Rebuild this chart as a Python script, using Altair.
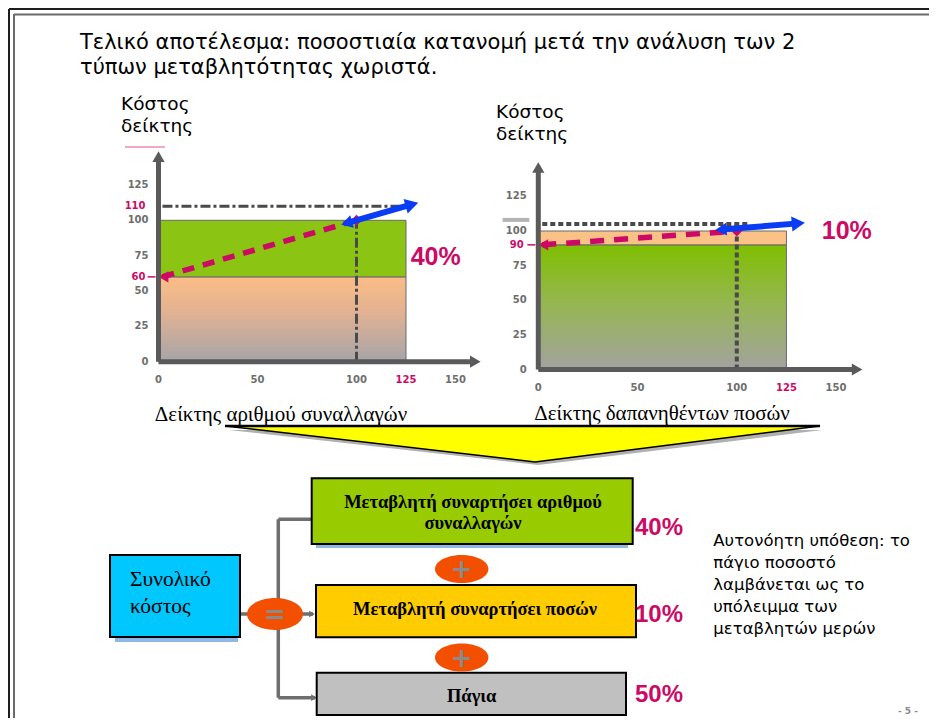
import altair as alt
import pandas as pd

# ----------------------------------------------------------------- values
TITLE_LINES = ["Τελικό αποτέλεσμα: ποσοστιαία κατανομή μετά την ανάλυση των 2",
               "τύπων μεταβλητότητας χωριστά."]
Y_TITLE_LINES = ["Κόστος", "δείκτης"]
X_TICKS = [0, 50, 100, 150]
Y_TICKS = [0, 25, 50, 75, 100, 125]

# left panel: cost index vs index of number of transactions
L_X_TITLE = "Δείκτης αριθμού συναλλαγών"
L_ZERO_COST = 60      # cost index when activity index = 0
L_BASE_X = 100
L_BASE_COST = 100
L_MAX_X = 125
L_MAX_COST = 110
L_SHARE = "40%"
L_BLUE_X = [95, 128]
L_BLUE_Y = [98, 111.2]

# right panel: cost index vs index of amounts spent
R_X_TITLE = "Δείκτης δαπανηθέντων ποσών"
R_ZERO_COST = 90
R_BASE_X = 100
R_BASE_COST = 100
R_MAX_X = 125
R_REF_COST = 105
R_SHARE = "10%"
R_BLUE_X = [92, 131]
R_BLUE_Y = [101, 105.5]

# diagram
TOTAL_LABEL = ["Συνολικό", "κόστος"]
PART_LABELS = ["Μεταβλητή συναρτήσει αριθμού", "συναλλαγών",
               "Μεταβλητή συναρτήσει ποσών", "Πάγια"]
PART_SHARES = ["40%", "10%", "50%"]
PART_COLORS = ["#99cc00", "#ffcc00", "#c0c0c0"]
NOTE_LINES = ["Αυτονόητη υπόθεση: το", "πάγιο ποσοστό", "λαμβάνεται ως το",
              "υπόλειμμα των", "μεταβλητών μερών"]
PAGE_NO = "- 5 -"

# ----------------------------------------------------------------- styles
MAG = "#cc0a66"
BLUE = "#0a3cf5"
AXC = "#5a5a5a"
SANS = "DejaVu Sans"
SERIF = "Liberation Serif"
ARIAL = "Liberation Sans"
W, H = 922, 711

# page-coordinate scales for the slide decoration / diagram
PX = alt.Scale(domain=[8, 930], range=[0, 922], nice=False, zero=False)
PY = alt.Scale(domain=[8, 719], range=[0, 711], nice=False, zero=False)


def D(**cols):
    return pd.DataFrame(cols)


def enc(ch, sx, sy, x2=False, y2=False):
    e = dict(x=alt.X("x:Q", scale=sx, axis=None), y=alt.Y("y:Q", scale=sy, axis=None))
    if x2:
        e["x2"] = alt.X2("x2")
    if y2:
        e["y2"] = alt.Y2("y2")
    return ch.encode(**e)


def txt(data, sx, sy, **mk):
    return enc(alt.Chart(data).mark_text(**mk), sx, sy).encode(text="t:N")


def rul(data, sx, sy, **mk):
    return enc(alt.Chart(data).mark_rule(**mk), sx, sy, True, True)


def rct(data, sx, sy, **mk):
    return enc(alt.Chart(data).mark_rect(**mk), sx, sy, True, True)


def pts(data, sx, sy, **mk):
    return enc(alt.Chart(data).mark_point(**mk), sx, sy)


def lin(data, sx, sy, **mk):
    return enc(alt.Chart(data).mark_line(**mk), sx, sy)


def grad(stops):
    return alt.LinearGradient(gradient="linear", x1=0, x2=0, y1=0, y2=1,
                              stops=[alt.GradientStop(color=c, offset=o) for o, c in stops])


# ----------------------------------------------------------------- index panels
def index_panel(c):
    xs = alt.Scale(domain=[0, 150], range=c["xr"], nice=False, zero=False)
    ys = alt.Scale(domain=[0, 125], range=c["yr"], nice=False, zero=False)
    lab = dict(font=SANS, fontWeight="bold", fontSize=10, baseline="middle")
    L = [
        rct(D(x=[0], x2=[c["maxx"]], y=[0], y2=[c["split"]]), xs, ys,
            fill=grad(c["lower_stops"]), stroke="#6a6a6a", strokeWidth=1),
        rct(D(x=[0], x2=[c["maxx"]], y=[c["split"]], y2=[c["top"]]), xs, ys,
            fill=c["upper_fill"], stroke="#6a6a6a", strokeWidth=1),
        rul(D(x=[2], x2=[c["hdash_x2"]], y=[c["hdash_y"]], y2=[c["hdash_y"]]), xs, ys,
            color="#4a4a4a", strokeWidth=c["dash_w"], strokeDash=c["dash"]),
        rul(D(x=[c["basex"]], x2=[c["basex"]], y=[0], y2=[c["vdash_y2"]]), xs, ys,
            color="#4a4a4a", strokeWidth=c["dash_w"], strokeDash=c["dash"]),
        lin(D(x=[2, c["basex"]], y=[c["zero"], c["basecost"]]), xs, ys,
            color=MAG, strokeWidth=5.5, strokeDash=c["mdash"]),
        pts(D(x=[2.5], y=[c["zero"]]), xs, ys, shape="triangle-left", size=130,
            filled=True, color=MAG, opacity=1),
        pts(D(x=[c["basex"]], y=[c["basecost"]]), xs, ys, shape="diamond", size=120,
            filled=True, color=MAG, opacity=1),
        lin(D(x=c["bx"], y=c["by"]), xs, ys, color=BLUE, strokeWidth=6),
        pts(D(x=[c["bx"][0]], y=[c["by"][0]]), xs, ys, shape="triangle-left", size=170,
            angle=c["bangle"], filled=True, color=BLUE, opacity=1),
        pts(D(x=[c["bx"][1]], y=[c["by"][1]]), xs, ys, shape="triangle-right", size=230,
            angle=c["bangle"], filled=True, color=BLUE, opacity=1),
        # axes with arrow heads
        rul(D(x=[0], x2=[0], y=[0], y2=[c["yarrow"] - 1]), xs, ys, color=AXC, strokeWidth=5),
        rul(D(x=[0], x2=[c["xarrow"] - 1], y=[0], y2=[0]), xs, ys, color=AXC, strokeWidth=5),
        pts(D(x=[0], y=[c["yarrow"]]), xs, ys, shape="triangle-up", size=150,
            filled=True, color=AXC, opacity=1),
        pts(D(x=[c["xarrow"]], y=[0]), xs, ys, shape="triangle-right", size=150,
            filled=True, color=AXC, opacity=1),
        # tick labels
        txt(D(t=[str(v) for v in X_TICKS], x=X_TICKS, y=[0] * len(X_TICKS)), xs, ys,
            align="center", dy=c["xpad"], color="#6e6e6e", **lab),
        txt(D(t=[str(v) for v in Y_TICKS], x=[0] * len(Y_TICKS), y=Y_TICKS), xs, ys,
            align="right", dx=-c["ypad"], color="#6e6e6e", **lab),
        txt(D(t=c["mlabels"], x=[0] * len(c["mlabels"]), y=c["mlabel_y"]), xs, ys,
            align="right", dx=-c["ypad"] - 3, color=MAG, **lab),
        rul(D(x=[-5.5], x2=[-1.5], y=[c["zero"]], y2=[c["zero"]]), xs, ys,
            color=MAG, strokeWidth=1.5),
        txt(D(t=[str(c["maxx"])], x=[c["maxx"]], y=[0]), xs, ys, align="center",
            dy=c["xpad"], color=MAG, **lab),
        txt(D(t=[c["share"]], x=[c["share_x"]], y=[c["share_y"]]), xs, ys, align="center",
            baseline="middle", font=ARIAL, fontWeight="bold", fontSize=25, color=MAG),
    ]
    if "extra" in c:
        L += c["extra"](xs, ys)
    return L


left_layers = index_panel(dict(
    xr=[150.5, 150.5 + 150 * 1.98], yr=[353.7, 353.7 - 125 * 1.414], xpad=18.3, ypad=10,
    maxx=L_MAX_X, split=L_ZERO_COST, top=L_BASE_COST,
    lower_stops=[(0, "#fbbd86"), (0.4, "#e3b291"), (1, "#a6a4a9")], upper_fill="#8cc414",
    hdash_y=L_MAX_COST, hdash_x2=128, vdash_y2=L_BASE_COST, dash=[10, 3, 3, 3], dash_w=3,
    basex=L_BASE_X, basecost=L_BASE_COST, zero=L_ZERO_COST, mdash=[12, 9],
    bx=L_BLUE_X, by=L_BLUE_Y, bangle=344, yarrow=145, xarrow=160,
    mlabels=[str(L_MAX_COST), str(L_ZERO_COST)], mlabel_y=[L_MAX_COST, L_ZERO_COST],
    share=L_SHARE, share_x=140, share_y=74,
))
right_layers = index_panel(dict(
    xr=[530.3, 530.3 + 150 * 1.985], yr=[361.5, 361.5 - 125 * 1.385], xpad=18.8, ypad=11.6,
    maxx=R_MAX_X, split=R_ZERO_COST, top=R_BASE_COST,
    lower_stops=[(0, "#7fbf00"), (0.5, "#97b556"), (1, "#a3a2a0")], upper_fill="#fbc287",
    hdash_y=R_REF_COST, hdash_x2=106, vdash_y2=R_REF_COST, dash=[5, 3], dash_w=4,
    basex=R_BASE_X, basecost=R_BASE_COST, zero=R_ZERO_COST, mdash=[14, 10],
    bx=R_BLUE_X, by=R_BLUE_Y, bangle=355, yarrow=145.8, xarrow=160.6,
    mlabels=[str(R_ZERO_COST)], mlabel_y=[R_ZERO_COST],
    share=R_SHARE, share_x=155.4, share_y=100,
    extra=lambda xs, ys: [rul(D(x=[-18], x2=[-4.5], y=[108], y2=[108]), xs, ys,
                              color="#b4b4b4", strokeWidth=4)],
))

# ----------------------------------------------------------------- slide frame & titles
head_layers = [
    txt(D(t=TITLE_LINES, x=[80, 80], y=[49, 74]), PX, PY,
        align="left", baseline="alphabetic", font=SANS, fontSize=21, color="#000"),
    txt(D(t=Y_TITLE_LINES * 2, x=[121, 121, 496, 496], y=[110, 131.7, 118, 139.7]), PX, PY,
        align="left", baseline="alphabetic", font=SANS, fontSize=18.5, color="#000"),
    rul(D(x=[125], x2=[165], y=[147], y2=[147]), PX, PY, color="#f2a8c4", strokeWidth=2),
    rul(D(x=[9, 9], x2=[929, 9], y=[9, 9], y2=[9, 718]), PX, PY, color="#1e1e1e", strokeWidth=2),
    rul(D(x=[14, 14], x2=[929, 14], y=[14.5, 14], y2=[14.5, 718]), PX, PY,
        color="#6a6a6a", strokeWidth=2),
]

# ----------------------------------------------------------------- diagram
tri = alt.Chart(D(x=[225, 535, 820], y=[426] * 3, y2=[426, 462, 426])).mark_area(
    color="#ffff00", stroke="#000", strokeWidth=1.5, opacity=1).encode(
    x=alt.X("x:Q", scale=PX, axis=None), y=alt.Y("y:Q", scale=PY, axis=None), y2=alt.Y2("y2"))
tri_sh = alt.Chart(D(x=[229, 538, 822], y=[430] * 3, y2=[430, 465, 430])).mark_area(
    color="#9c9c9c", opacity=0.8).encode(
    x=alt.X("x:Q", scale=PX, axis=None), y=alt.Y("y:Q", scale=PY, axis=None), y2=alt.Y2("y2"))

oval_eq = "M-1,0A1,0.571,0,1,1,1,0A1,0.571,0,1,1,-1,0Z"
oval_pl = "M-1,0A1,0.525,0,1,1,1,0A1,0.525,0,1,1,-1,0Z"

diagram_layers = [
    txt(D(t=[L_X_TITLE, R_X_TITLE], x=[281, 662], y=[415, 414]), PX, PY,
        align="center", baseline="middle", font=SERIF, fontSize=21, color="#000"),
    tri_sh, tri,
    rul(D(x=[225], x2=[820], y=[426], y2=[426]), PX, PY, color="#000", strokeWidth=2.5),
    # connectors
    rul(D(x=[278.3, 278.3, 240, 278.3], x2=[278.3, 311, 313, 315],
          y=[519.3, 519.3, 614, 697.7], y2=[697.7, 519.3, 614, 697.7]),
        PX, PY, color="#6e6e6e", strokeWidth=3.5),
    pts(D(x=[312, 314], y=[614, 697.7]), PX, PY, shape="triangle-right", size=45,
        filled=True, color="#6e6e6e", opacity=1),
    # shadows
    rct(D(x=[115, 316], x2=[238, 628], y=[637, 544], y2=[642, 548]), PX, PY,
        color="#8fb8e6", opacity=1),
    # boxes
    rct(D(x=[110], x2=[240], y=[555], y2=[637]), PX, PY,
        fill="#00c8ff", stroke="#000", strokeWidth=2),
    rct(D(x=[311.7, 316, 316.7], x2=[632.7, 636, 626], y=[478.3, 585, 672.7],
          y2=[544, 637.3, 715], c=PART_COLORS), PX, PY, stroke="#000", strokeWidth=2
        ).encode(fill=alt.Fill("c:N", scale=None)),
    txt(D(t=TOTAL_LABEL, x=[130, 130], y=[580, 606.7]), PX, PY,
        align="left", baseline="middle", font=SERIF, fontSize=21.5, color="#000"),
    txt(D(t=PART_LABELS, x=[473, 473, 475, 471.7], y=[501.7, 523.3, 609, 695.5]), PX, PY,
        align="center", baseline="middle", font=SERIF, fontWeight="bold", fontSize=18.5,
        color="#000"),
    # operator ovals
    pts(D(x=[275], y=[614]), PX, PY, shape=oval_eq, size=3136, filled=True,
        color="#f25000", opacity=1, strokeWidth=0),
    pts(D(x=[461.7, 461.7], y=[569, 657.5]), PX, PY, shape=oval_pl, size=2852, filled=True,
        color="#f25000", opacity=1, strokeWidth=0),
    txt(D(t=["=", "+", "+"], x=[275, 461.7, 461.7], y=[615, 570, 658.5]), PX, PY,
        align="center", baseline="middle", font=SANS, fontWeight="bold", fontSize=26,
        color="#8a8a8a"),
    # shares
    txt(D(t=PART_SHARES, x=[635, 635, 635], y=[528, 615, 695]), PX, PY,
        align="left", baseline="middle", font=ARIAL, fontWeight="bold", fontSize=24, color=MAG),
    # note
    txt(D(t=NOTE_LINES, x=[713.3] * 5, y=[540.7, 562.7, 585, 607.3, 629.3]), PX, PY,
        align="left", baseline="middle", font=SANS, fontSize=16.5, color="#000"),
    txt(D(t=[PAGE_NO], x=[908], y=[711]), PX, PY, align="center", baseline="middle",
        font=SANS, fontWeight="bold", fontSize=9, color="#8a8a8a"),
]

chart = alt.layer(*(head_layers + left_layers + right_layers + diagram_layers)).resolve_scale(
    x="independent", y="independent").properties(
    width=W, height=H, padding=0, background="white",
    autosize=alt.AutoSizeParams(type="none")).configure_view(stroke="transparent")

chart.save("out.html", embed_options={"renderer": "svg", "actions": False})
